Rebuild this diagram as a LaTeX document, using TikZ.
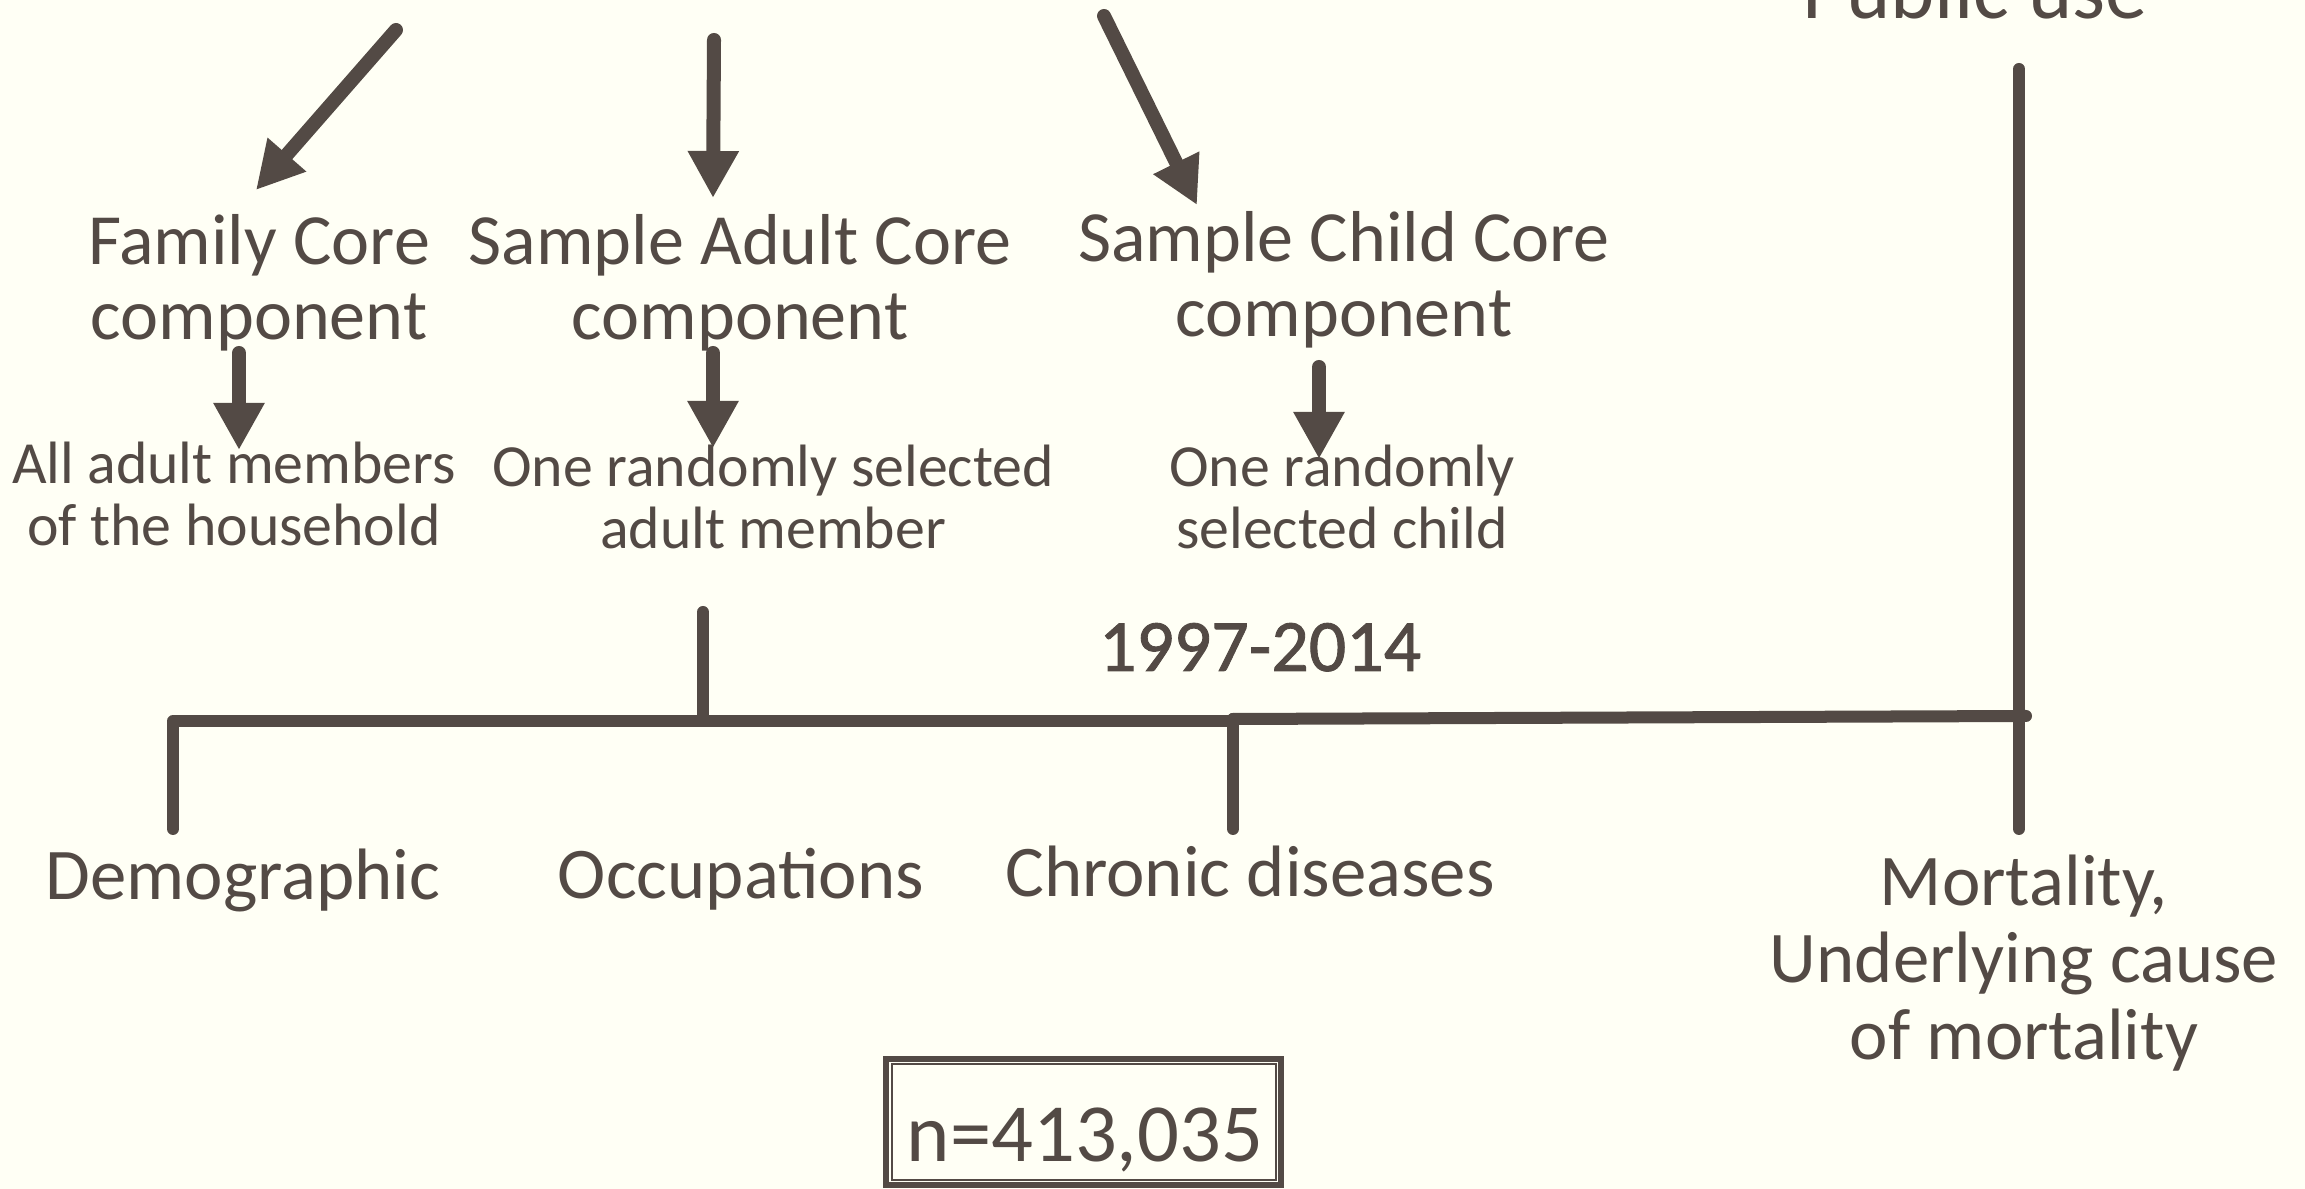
\documentclass[tikz,border=0pt]{standalone}
\usepackage{fontspec}
\setmainfont{Carlito}
\usetikzlibrary{arrows.meta}
\definecolor{ink}{RGB}{83,74,69}
\definecolor{paper}{RGB}{255,255,245}
\begin{document}
\begin{tikzpicture}[x=0.01cm,y=-0.01cm,
  lbl/.style={text=ink, inner sep=0pt, align=center, anchor=base},
  head/.style={lbl, font=\fontsize{20.5}{21.6}\selectfont},
  sub/.style={lbl, font=\fontsize{17}{17.8}\selectfont},
  bot/.style={lbl, font=\fontsize{20.7}{22}\selectfont},
  bar/.style={draw=ink, line width=0.12cm, line cap=round, line join=round},
  arr/.style={bar, line width=0.14cm, -{Triangle[width=0.48cm,length=0.47cm]}},
]
\fill[paper] (0,0) rectangle (2305,1189);
\useasboundingbox (0,0) rectangle (2305,1189);

% texts (anchor base = baseline of last line)
\node[lbl, font=\fontsize{24}{26}\selectfont] (pub) at (1975,19) {Public use};
\node[head] (fam) at (259,340) {Family Core\\component};
\node[head] (adult) at (740,340) {Sample Adult Core\\component};
\node[head] (child) at (1344,337) {Sample Child Core\\component};
\node[sub] (all) at (234,546) {All adult members\\of the household};
\node[sub] (one) at (773,549) {One randomly selected\\adult member};
\node[sub] (onec) at (1342,549) {One randomly\\selected child};
\node[lbl, font=\fontsize{21}{23}\selectfont\addfontfeature{FakeBold=1.2}] (year) at (1260,671) {1997-2014};
\node[bot] (demo) at (243,900) {Demographic};
\node[bot] (occ) at (741,899) {Occupations};
\node[bot] (chron) at (1250,897) {Chronic diseases};
\node[bot] (mort) at (2024,1060) {Mortality,\\Underlying cause\\of mortality};
\node[lbl, font=\fontsize{23.5}{25}\selectfont] (n) at (1085,1162) {n=413,035};

% box around n
\draw[ink, line width=0.06cm] (886,1059) rectangle (1281,1185);
\draw[ink, line width=0.02cm] (891.5,1064) rectangle (1276,1180);

% top arrows
\coordinate (t1s) at (396,30);  \coordinate (t1e) at (256,190);
\coordinate (t2s) at (714,40);  \coordinate (t2e) at (713,198);
\coordinate (t3s) at (1104,16); \coordinate (t3e) at (1197,205);
\draw[arr] (t1s) -- (t1e);
\draw[arr] (t2s) -- (t2e);
\draw[arr] (t3s) -- (t3e);

% small arrows
\coordinate (s1s) at (239,353);  \coordinate (s1e) at (239,450);
\coordinate (s2s) at (713,353);  \coordinate (s2e) at (713,448);
\coordinate (s3s) at (1319,367); \coordinate (s3e) at (1319,459);
\draw[arr] (s1s) -- (s1e);
\draw[arr] (s2s) -- (s2e);
\draw[arr] (s3s) -- (s3e);

% timeline
\coordinate (dl) at (173,829);
\coordinate (tl) at (173,721);
\coordinate (tm) at (703,721);
\coordinate (mu) at (703,612);
\coordinate (tc) at (1233,721);
\coordinate (tc2) at (1233,719);
\coordinate (cl) at (1233,829);
\coordinate (tr) at (2026,716);
\coordinate (pt) at (2019,69);
\coordinate (pb) at (2019,829);
\draw[bar] (dl) -- (tl) -- (tc);
\draw[bar] (tc2) -- (tr);
\draw[bar] (mu) -- (tm);
\draw[bar] (tc2) -- (cl);
\draw[bar] (pt) -- (pb);
\end{tikzpicture}
\end{document}
